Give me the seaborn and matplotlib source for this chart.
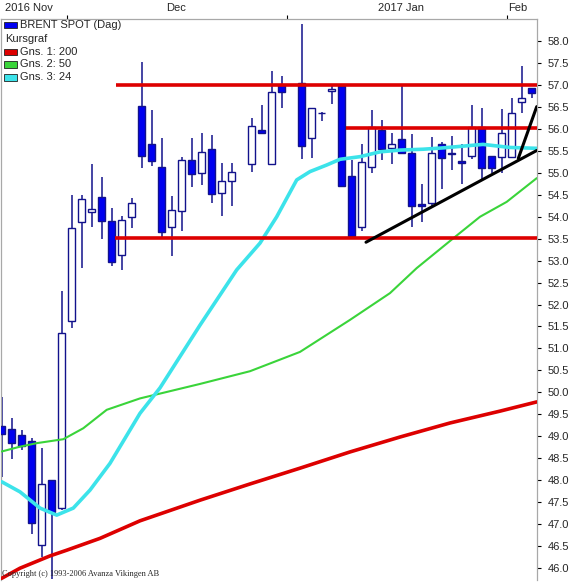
import matplotlib
matplotlib.use("Agg")

import matplotlib.pyplot as plt
from matplotlib.patches import Rectangle
from matplotlib.ticker import FormatStrFormatter
import numpy as np
import pandas as pd
import seaborn as sns

# dagliga candles, slot = handelsdag (24 och 29 saknas = helgdagar)
slot = [0, 1, 2, 3, 4, 5, 6, 7, 8, 9, 10, 11, 12, 13, 14, 15, 16, 17, 18, 19,
        20, 21, 22, 23, 25, 26, 27, 28, 30, 31, 32, 33, 34, 35, 36, 37, 38, 39,
        40, 41, 42, 43, 44, 45, 46, 47, 48, 49, 50, 51, 52, 53]
opens = [49.23, 49.16, 49.02, 48.89, 46.52, 48.00, 47.36, 51.62, 53.87, 54.12,
         54.46, 53.90, 53.14, 53.99, 56.53, 55.67, 55.13, 53.76, 54.14, 55.29,
         55.00, 55.55, 54.55, 54.81, 55.20, 55.98, 55.20, 57.00, 57.04, 55.79,
         56.36, 56.86, 56.97, 54.94, 53.77, 55.13, 55.98, 55.56, 55.77, 55.45,
         54.29, 54.32, 55.67, 55.45, 55.26, 55.39, 56.04, 55.39, 55.37, 55.37,
         56.61, 56.93]
highs = [49.90, 49.41, 49.14, 48.95, 48.72, 48.00, 52.31, 54.50, 54.50, 55.20,
         54.91, 54.19, 54.02, 54.42, 57.53, 56.43, 55.80, 54.47, 55.37, 55.80,
         55.90, 55.86, 55.22, 55.22, 56.26, 56.55, 57.32, 57.21, 58.39, 56.47,
         56.38, 57.00, 57.00, 55.29, 55.65, 56.43, 56.21, 55.90, 56.99, 55.88,
         54.75, 55.81, 55.71, 55.84, 55.65, 56.55, 56.49, 55.39, 56.45, 56.71,
         57.44, 56.93]
lows = [48.08, 48.49, 48.68, 46.76, 46.25, 45.75, 47.32, 51.47, 52.83, 53.76,
        53.49, 52.88, 52.79, 53.75, 55.12, 55.16, 53.55, 53.11, 53.68, 54.69,
        54.73, 54.31, 54.02, 54.25, 55.03, 55.89, 55.20, 56.47, 55.31, 55.33,
        56.19, 56.57, 54.71, 53.57, 53.68, 55.00, 55.29, 55.20, 55.46, 53.76,
        53.89, 54.25, 54.63, 55.07, 54.75, 55.32, 54.85, 54.99, 54.99, 55.37,
        56.36, 56.70]
closes = [49.06, 48.84, 48.78, 47.01, 47.92, 47.26, 51.34, 53.74, 54.41, 54.18,
          53.91, 52.96, 53.93, 54.31, 55.39, 55.26, 53.66, 54.15, 55.29, 54.98,
          55.47, 54.51, 54.81, 55.01, 56.06, 55.92, 56.84, 56.85, 55.62, 56.47,
          56.37, 56.91, 54.71, 53.57, 55.24, 56.04, 55.55, 55.67, 55.46, 54.25,
          54.25, 55.45, 55.33, 55.42, 55.23, 56.04, 55.11, 55.12, 55.90, 56.36,
          56.70, 56.81]

# glidande medelvärden (avlästa punkter)
ma200_x = [0, 1.83, 4.83, 6.5, 9.83, 13.83, 19.83, 24.83, 29.83, 34.83, 39.83, 44.83, 49.83, 53.5]
ma200_v = [45.76, 45.99, 46.27, 46.40, 46.67, 47.07, 47.54, 47.91, 48.27, 48.64, 48.98, 49.30, 49.57, 49.78]

ma50_x = [0, 1.83, 3.5, 6.16, 8.16, 10.5, 13.83, 19.83, 24.83, 29.83, 34.83, 38.83, 41.5, 45.16, 47.83, 50.5, 53.5]
ma50_v = [48.65, 48.76, 48.84, 48.93, 49.18, 49.60, 49.86, 50.19, 50.48, 50.92, 51.65, 52.26, 52.83, 53.51, 54.00, 54.34, 54.88]

ma24_x = [0, 1.83, 3.83, 5.5, 7.16, 8.83, 10.83, 13.83, 15.83, 19.83, 23.5, 25.83, 27.5, 29.5, 30.83,
          32.5, 33.83, 35.83, 37.83, 39.83, 42.16, 44.13, 48.13, 50.83, 53.5]
ma24_v = [47.96, 47.73, 47.36, 47.20, 47.36, 47.77, 48.38, 49.52, 50.10, 51.53, 52.79, 53.40, 54.00, 54.84, 55.03,
          55.18, 55.31, 55.37, 55.48, 55.52, 55.54, 55.57, 55.65, 55.58, 55.56]

# stöd/motstånd och trendlinjer
levels = [57.0, 56.03, 53.51]
level_start = [11.43, 34.43, 11.33]
trend1_x, trend1_v = [36.43, 53.5], [53.42, 55.51]
trend2_x, trend2_v = [51.66, 53.5], [55.33, 56.51]

month_ticks = [6.5, 28.5, 50.5]
price_ticks = np.arange(46.0, 58.01, 0.5)

NAVY = "#12128c"
BLUE = "#0000f0"
RED = "#dd0000"
GREEN = "#3ad43a"
CYAN = "#3ce3ea"
GREY = "#a8a8a8"

W, H = 572, 582

df = pd.DataFrame({"slot": slot, "open": opens, "high": highs, "low": lows, "close": closes})
down = df["close"] < df["open"]

sns.set_style("white")
plt.rcParams["font.family"] = ["Liberation Sans", "DejaVu Sans"]

fig = plt.figure(figsize=(W / 100, H / 100), dpi=100)
ax = fig.add_axes([1 / W, 2 / H, 535.7 / W, 561 / H])

# candles
ax.vlines(df["slot"], df["low"], df["high"], color=NAVY, linewidth=1.1, zorder=2)
ax.bar(df["slot"], df["close"] - df["open"], bottom=df["open"], width=0.7,
       color=np.where(down, BLUE, "white"), edgecolor=NAVY, linewidth=1.0, zorder=3)

# medelvärden
sns.lineplot(x=ma200_x, y=ma200_v, ax=ax, color=RED, linewidth=2.6, zorder=4)
sns.lineplot(x=ma50_x, y=ma50_v, ax=ax, color=GREEN, linewidth=1.5, zorder=4)
sns.lineplot(x=ma24_x, y=ma24_v, ax=ax, color=CYAN, linewidth=2.6, zorder=4)

ax.hlines(levels, level_start, 53.5, color=RED, linewidth=2.6, zorder=5)
ax.plot(trend1_x, trend1_v, color="black", linewidth=2.2, zorder=6)
ax.plot(trend2_x, trend2_v, color="black", linewidth=2.2, zorder=6)

ax.set_xlim(-0.07, 53.5)
ax.set_ylim(45.721, 58.508)
ax.set_xlabel("")
ax.set_ylabel("")

ax.set_yticks(price_ticks)
ax.yaxis.set_major_formatter(FormatStrFormatter("%.1f"))
ax.yaxis.tick_right()
ax.tick_params(axis="y", right=True, left=False, length=3, width=0.8,
               color="black", pad=5, labelsize=8)

ax.set_xticks(month_ticks)
ax.xaxis.tick_top()
ax.tick_params(axis="x", top=True, bottom=False, labeltop=False, labelbottom=False,
               length=3, width=0.8, color="black")

for side in ["left", "top", "right"]:
    ax.spines[side].set_color(GREY)
    ax.spines[side].set_linewidth(0.9)
ax.spines["bottom"].set_visible(False)


def px(x, y):
    return x / W, 1 - y / H


# månader överst
fig.text(*px(5, 10.7), "2016 Nov", fontsize=8, va="baseline", ha="left")
fig.text(*px(176.5, 10.7), "Dec", fontsize=8, va="baseline", ha="center")
fig.text(*px(401, 10.7), "2017 Jan", fontsize=8, va="baseline", ha="center")
fig.text(*px(508, 10.7), "Feb", fontsize=8, va="baseline", ha="left")

# förklaring
legend_rows = [
    (BLUE, "BRENT SPOT (Dag)", 25.0),
    (None, "Kursgraf", 38.5),
    (RED, "Gns. 1: 200", 51.7),
    (GREEN, "Gns. 2: 50", 64.3),
    (CYAN, "Gns. 3: 24", 77.3),
]
for col, label, yc in legend_rows:
    if col is None:
        fig.text(*px(5, yc), label, fontsize=8, va="center", ha="left")
        continue
    x0, y0 = px(3.5, yc + 3.3)
    fig.patches.append(Rectangle((x0, y0), 13 / W, 6.5 / H, transform=fig.transFigure,
                                 facecolor=col, edgecolor="#202020", linewidth=0.6))
    fig.text(*px(20.5, yc), label, fontsize=8, va="center", ha="left")

fig.text(*px(2, 576.5), "Copyright (c) 1993-2006 Avanza Vikingen AB", fontsize=6,
         family="Liberation Serif", va="baseline", ha="left")

fig.savefig("out.png", dpi=100)
plt.close("all")
